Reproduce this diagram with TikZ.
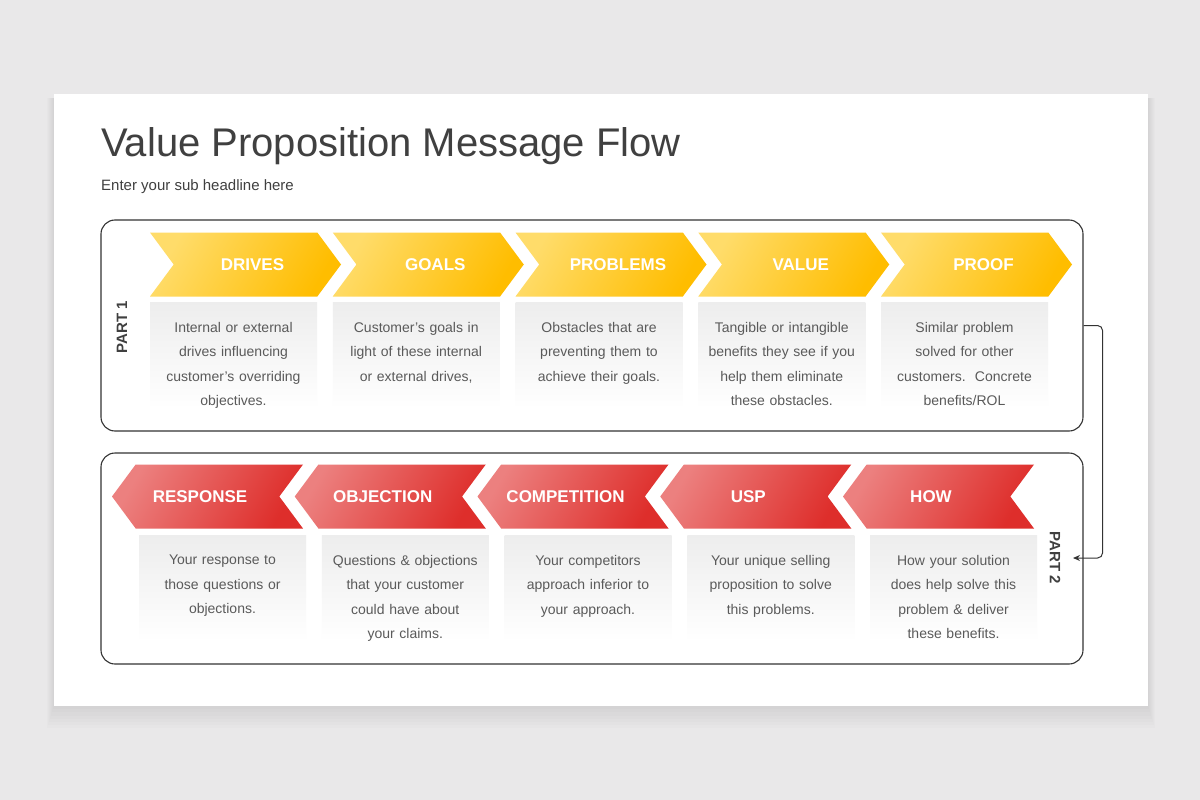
\documentclass[tikz,border=0pt]{standalone}
\usepackage{fontspec}
\setmainfont{Liberation Sans}
\usetikzlibrary{positioning,shapes.symbols,arrows.meta}

\definecolor{pagegray}{HTML}{E9E8E9}
\definecolor{titlegray}{HTML}{404040}
\definecolor{textgray}{HTML}{5A5A5A}
\definecolor{framegray}{HTML}{333333}
\definecolor{yellowlight}{HTML}{FFDC6A}
\definecolor{yellowdark}{HTML}{FFBD00}
\definecolor{redlight}{HTML}{EC807F}
\definecolor{reddark}{HTML}{DE2E2B}

\begin{document}
\begin{tikzpicture}[
    x=1pt, y=-1pt,
    >=Stealth,
    node distance=182.75pt,
    stage/.style={signal, signal pointer angle=107, minimum width=191pt, minimum height=64pt,
        inner sep=0pt, text=white, font=\fontsize{17}{20}\selectfont\bfseries},
    fwd/.style={stage, signal to=east, signal from=west,
        left color=yellowlight, right color=yellowdark, shading angle=60},
    back/.style={stage, signal to=west, signal from=east,
        left color=redlight, right color=reddark, shading angle=60},
    note/.style={minimum width=167pt, minimum height=106pt, inner sep=0pt,
        top color=black!7, bottom color=white},
    notetext/.style={text width=165pt, align=center, inner sep=0pt, text=textgray,
        font=\fontsize{14}{24.5}\selectfont},
    partframe/.style={draw=framegray, line width=1.1pt, rounded corners=14pt,
        minimum width=982pt, minimum height=211pt},
    partlabel/.style={font=\fontsize{15}{18}\selectfont\bfseries, text=titlegray}
]
\useasboundingbox (0,0) rectangle (1200,800);
\fill[pagegray] (0,0) rectangle (1200,800);
\foreach \s in {2,4,...,14}
    \fill[black, opacity=0.010] (54-\s/2,98) rectangle (1148+\s/2,706+\s*1.6);
\fill[white] (54,94) rectangle (1148,706);

\node[anchor=base west, inner sep=0pt, text=titlegray, font=\fontsize{40}{48}\selectfont]
    (title) at (101,156) {Value Proposition Message Flow};
\node[anchor=base west, inner sep=0pt, text=titlegray, font=\fontsize{15}{18}\selectfont]
    (subtitle) at (101,190) {Enter your sub headline here};

\node[partframe] (part1) at (592,325.5) {};
\node[partframe] (part2) at (592,558.5) {};
\node[partlabel, rotate=90] (part1label) at (122,327) {PART 1};
\node[partlabel, rotate=-90] (part2label) at (1055,558) {PART 2};

\node[fwd] (drives) at (245.5,264.5) {\hspace*{14pt}DRIVES};
\node[fwd, right of=drives] (goals) {\hspace*{14pt}GOALS};
\node[fwd, right of=goals] (problems) {\hspace*{14pt}PROBLEMS};
\node[fwd, right of=problems] (value) {\hspace*{14pt}VALUE};
\node[fwd, right of=value] (proof) {\hspace*{14pt}PROOF};

\node[back] (how) at (938.5,496.5) {HOW\hspace*{15pt}};
\node[back, left of=how] (usp) {USP\hspace*{15pt}};
\node[back, left of=usp] (competition) {COMPETITION\hspace*{15pt}};
\node[back, left of=competition] (objection) {OBJECTION\hspace*{15pt}};
\node[back, left of=objection] (response) {RESPONSE\hspace*{15pt}};

\node[note, below=6pt of drives, xshift=-12pt] (drivesnote) {};
\node[note, below=6pt of goals, xshift=-12pt] (goalsnote) {};
\node[note, below=6pt of problems, xshift=-12pt] (problemsnote) {};
\node[note, below=6pt of value, xshift=-12pt] (valuenote) {};
\node[note, below=6pt of proof, xshift=-12pt] (proofnote) {};
\node[note, below=7pt of how, xshift=15pt] (hownote) {};
\node[note, below=7pt of usp, xshift=15pt] (uspnote) {};
\node[note, below=7pt of competition, xshift=15pt] (competitionnote) {};
\node[note, below=7pt of objection, xshift=15pt] (objectionnote) {};
\node[note, below=7pt of response, xshift=15pt] (responsenote) {};

\node[notetext, below=19pt of drivesnote.north] (drivestext)
    {Internal or external\\drives influencing\\customer's overriding\\objectives.};
\node[notetext, below=19pt of goalsnote.north] (goalstext)
    {Customer's goals in\\light of these internal\\or external drives,};
\node[notetext, below=19pt of problemsnote.north] (problemstext)
    {Obstacles that are\\preventing them to\\achieve their goals.};
\node[notetext, below=19pt of valuenote.north] (valuetext)
    {Tangible or intangible\\benefits they see if you\\help them eliminate\\these obstacles.};
\node[notetext, below=19pt of proofnote.north] (prooftext)
    {Similar problem\\solved for other\\customers.\ \ Concrete\\benefits/ROL};
\node[notetext, below=19pt of responsenote.north] (responsetext)
    {Your response to\\those questions or\\objections.};
\node[notetext, below=19pt of objectionnote.north] (objectiontext)
    {Questions \& objections\\that your customer\\could have about\\your claims.};
\node[notetext, below=19pt of competitionnote.north] (competitiontext)
    {Your competitors\\approach inferior to\\your approach.};
\node[notetext, below=19pt of uspnote.north] (usptext)
    {Your unique selling\\proposition to solve\\this problems.};
\node[notetext, below=19pt of hownote.north] (howtext)
    {How your solution\\does help solve this\\problem \& deliver\\these benefits.};

\coordinate (part2in) at (1073,558);
\draw[-{Stealth[length=7pt,width=6pt]}, draw=framegray, line width=1pt, rounded corners=5pt]
    (part1.east) -- ++(19,0) |- (part2in);
\end{tikzpicture}
\end{document}
